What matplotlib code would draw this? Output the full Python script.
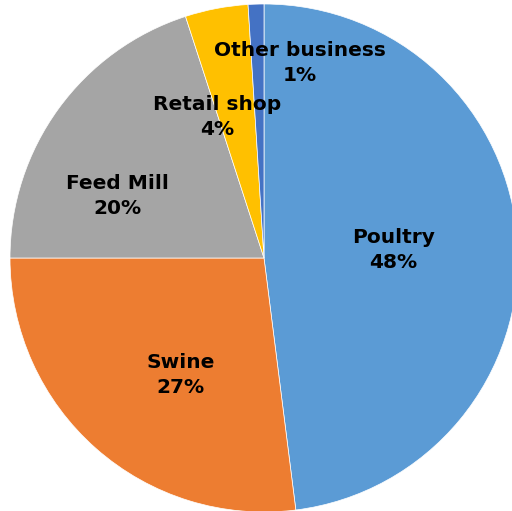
import numpy as np
import matplotlib
matplotlib.use("Agg")
from matplotlib import pyplot as plt

# business share by segment
segments = ['Poultry', 'Swine', 'Feed Mill', 'Retail shop', 'Other business']
shares = [48, 27, 20, 4, 1]
colors = ['#5B9BD5', '#ED7D31', '#A5A5A5', '#FFC000', '#4472C4']

# label distance from centre (fraction of radius) plus a small nudge
label_r = [0.51, 0.56, 0.63, 0.567, 0.768]
label_dx = [0.0, 0.043, -0.069, -0.079, 0.166]
label_dy = [0.0, -0.039, -0.128, 0.0, 0.0]

fig = plt.figure(figsize=(5.12, 5.11), dpi=100)
ax = fig.add_axes([10 / 512, -1 / 511, 508 / 512, 508 / 511])

wedges, _ = ax.pie(shares, colors=colors, startangle=90, counterclock=False,
                   radius=1.0, wedgeprops=dict(linewidth=0.5, edgecolor='white'))

for w, name, val, r, dx, dy in zip(wedges, segments, shares, label_r, label_dx, label_dy):
    mid = np.deg2rad((w.theta1 + w.theta2) / 2)
    x = r * np.cos(mid) + dx
    y = r * np.sin(mid) + dy
    ax.text(x, y, '%s\n%d%%' % (name, val), ha='center', va='center',
            fontsize=14.5, fontweight='bold', color='black', linespacing=1.4)

ax.set_xlim(-1, 1)
ax.set_ylim(-1, 1)
ax.set_aspect('equal')
ax.axis('off')

fig.savefig('out.png', dpi=100)
